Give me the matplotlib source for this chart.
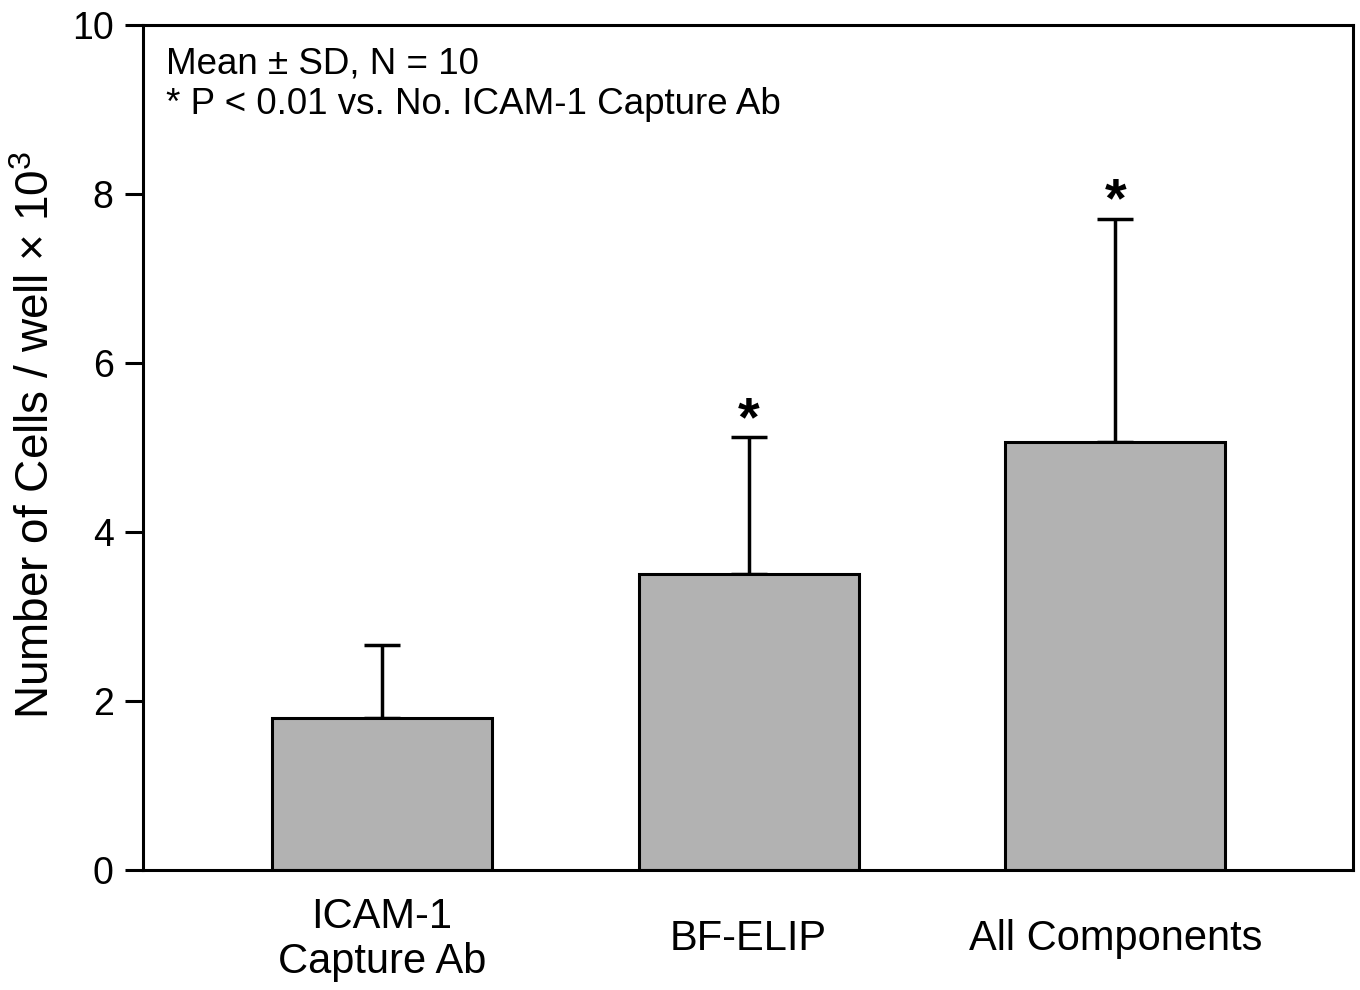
import numpy as np
import matplotlib
matplotlib.use("Agg")
import matplotlib.pyplot as plt

plt.rcParams['font.family'] = ['Liberation Sans', 'DejaVu Sans']
plt.rcParams['mathtext.fontset'] = 'custom'
plt.rcParams['mathtext.rm'] = 'Liberation Sans'
plt.rcParams['mathtext.it'] = 'Liberation Sans:italic'

groups = ["ICAM-1\nCapture Ab", "BF-ELIP", "All Components"]
means = [1.80, 3.50, 5.07]
sds = [0.86, 1.62, 2.64]
signif = ["", "*", "*"]

fig = plt.figure(figsize=(13.6, 9.9), dpi=100)
ax = fig.add_axes([0.105, 0.1212, 0.89, 0.8535])

x = np.arange(len(groups))
ax.bar(x, means, width=0.6, color='#b2b2b2', edgecolor='black', linewidth=2.2, zorder=2)
ax.errorbar(x, means, yerr=[np.zeros(len(sds)), sds], fmt='none', ecolor='black',
            elinewidth=2.5, capsize=13, capthick=2.5, zorder=1)
for xi, m, s, t in zip(x, means, sds, signif):
    if t:
        ax.text(xi, m + s - 0.12, t, ha='center', va='bottom', fontsize=40, fontweight='bold')

ax.set_xlim(-0.652, 2.649)
ax.set_ylim(0, 10)
ax.set_yticks([0, 2, 4, 6, 8, 10])
ax.set_xticks(x)
ax.set_xticklabels(groups, fontsize=30, linespacing=1.15, va='center')
ax.tick_params(axis='x', length=0, pad=50)
ax.tick_params(axis='y', labelsize=27, length=13, width=2.2, direction='out', pad=8)
for sp in ax.spines.values():
    sp.set_linewidth(2.2)

ax.set_ylabel("Number of Cells / well \u00d7 10$^3$", fontsize=33)
ax.yaxis.set_label_coords(-0.069, 0.515)

ax.text(0.019, 0.975, "Mean \u00b1 SD, N = 10\n* P < 0.01 vs. No. ICAM-1 Capture Ab",
        transform=ax.transAxes, ha='left', va='top', fontsize=26.5, linespacing=1.2)

fig.savefig("out.png", dpi=100)
